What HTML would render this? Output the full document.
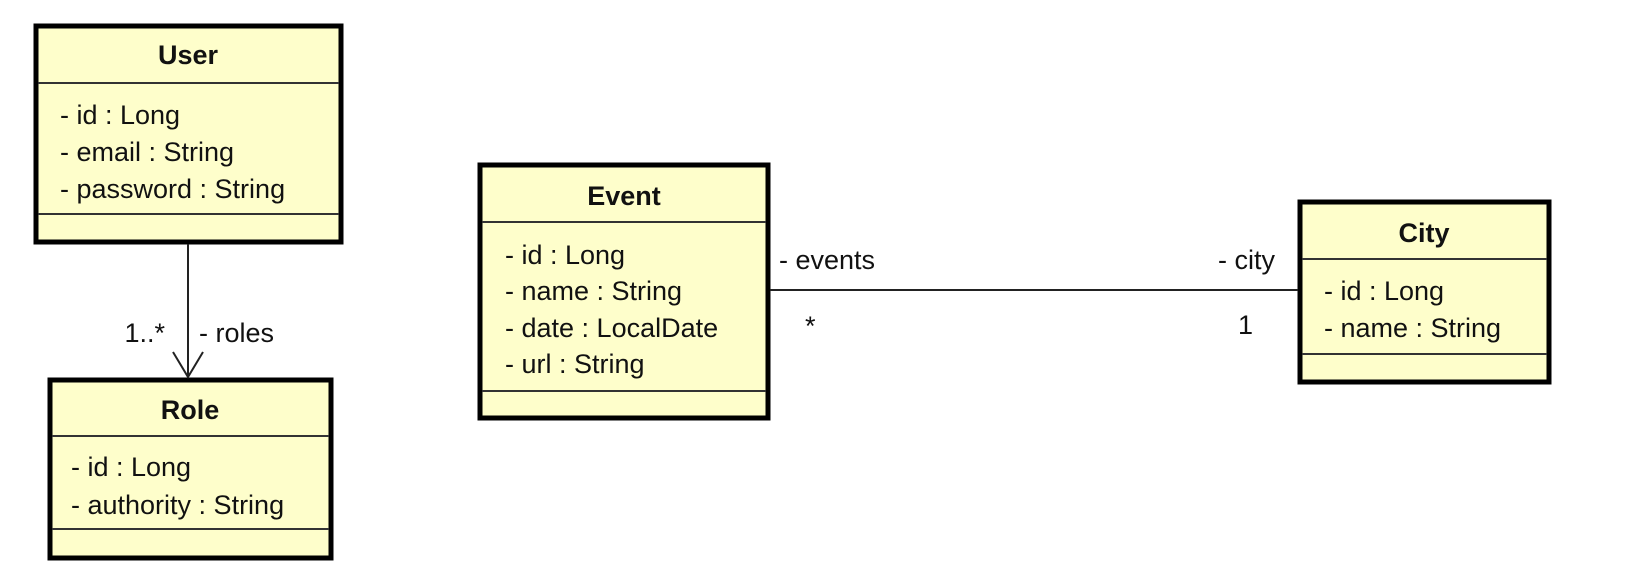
<!DOCTYPE html>
<html><head><meta charset="utf-8"><style>
html,body{margin:0;padding:0;background:#fff;}
svg{display:block;}
text{font-family:"Liberation Sans",Arial,sans-serif;font-size:27px;fill:#111;dominant-baseline:central;}
.t{font-weight:bold;text-anchor:middle;}
</style></head><body>
<svg width="1639" height="574" viewBox="0 0 1639 574" xmlns="http://www.w3.org/2000/svg">
<g stroke="#000" fill="#fefecb">
<rect x="36" y="26" width="305" height="216" stroke-width="5"/>
<rect x="50" y="380" width="281" height="178" stroke-width="5"/>
<rect x="480" y="165" width="288" height="253" stroke-width="5"/>
<rect x="1300" y="202" width="249" height="180" stroke-width="5"/>
</g>
<g stroke="#333" stroke-width="2">
<line x1="38" y1="83" x2="339" y2="83"/><line x1="38" y1="214" x2="339" y2="214"/>
<line x1="52" y1="436" x2="329" y2="436"/><line x1="52" y1="529" x2="329" y2="529"/>
<line x1="482" y1="222" x2="766" y2="222"/><line x1="482" y1="391" x2="766" y2="391"/>
<line x1="1302" y1="259" x2="1547" y2="259"/><line x1="1302" y1="354" x2="1547" y2="354"/>
</g>
<g stroke="#222" stroke-width="2" fill="none">
<line x1="188" y1="244" x2="188" y2="377"/>
<polyline points="173,352 188,377 203,352"/>
<line x1="770" y1="290" x2="1298" y2="290"/>
</g>
<text class="t" x="188" y="55">User</text>
<text x="60" y="115">- id : Long</text>
<text x="60" y="152">- email : String</text>
<text x="60" y="189">- password : String</text>
<text class="t" x="190" y="410">Role</text>
<text x="71" y="467">- id : Long</text>
<text x="71" y="505">- authority : String</text>
<text class="t" x="624" y="196">Event</text>
<text x="505" y="255">- id : Long</text>
<text x="505" y="291">- name : String</text>
<text x="505" y="328">- date : LocalDate</text>
<text x="505" y="364">- url : String</text>
<text class="t" x="1424" y="233">City</text>
<text x="1324" y="291">- id : Long</text>
<text x="1324" y="328">- name : String</text>
<text x="165" y="333" text-anchor="end">1..*</text>
<text x="199" y="333">- roles</text>
<text x="779" y="260">- events</text>
<text x="805" y="326">*</text>
<text x="1275" y="260" text-anchor="end">- city</text>
<text x="1253" y="325" text-anchor="end">1</text>
</svg>
</body></html>
